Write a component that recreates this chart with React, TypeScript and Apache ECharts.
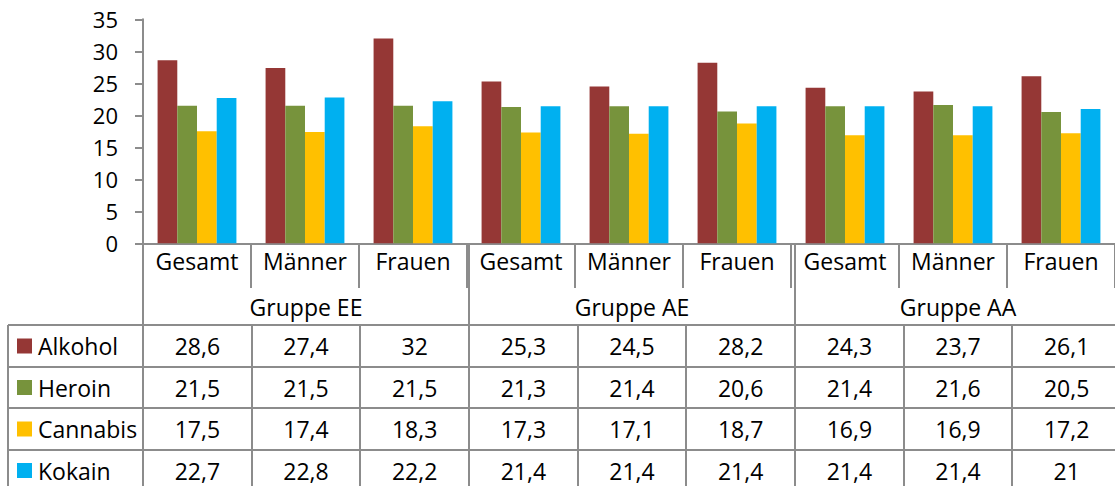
import React, { useEffect, useRef } from "react";
import * as echarts from "echarts";

const categories = ["Gesamt", "Männer", "Frauen", "Gesamt", "Männer", "Frauen", "Gesamt", "Männer", "Frauen"];
const groups = ["Gruppe EE", "Gruppe AE", "Gruppe AA"];
const seriesNames = ["Alkohol", "Heroin", "Cannabis", "Kokain"];
const alkohol = [28.6, 27.4, 32, 25.3, 24.5, 28.2, 24.3, 23.7, 26.1];
const heroin = [21.5, 21.5, 21.5, 21.3, 21.4, 20.6, 21.4, 21.6, 20.5];
const cannabis = [17.5, 17.4, 18.3, 17.3, 17.1, 18.7, 16.9, 16.9, 17.2];
const kokain = [22.7, 22.8, 22.2, 21.4, 21.4, 21.4, 21.4, 21.4, 21];
const colors = ["#953735", "#77933C", "#FFC000", "#00B0F0"];
const yMin = 0;
const yMax = 35;
const yInterval = 5;

const W = 1115;
const H = 486;
const FONT = '"Open Sans", sans-serif';
const LINE = "#8c8c8c";

export default function App() {
  const ref = useRef<HTMLDivElement>(null);
  useEffect(() => {
    if (!ref.current) return;
    const chart = echarts.init(ref.current, null, { renderer: "svg" });
    const values = [alkohol, heroin, cannabis, kokain];
    const plotLeft = 143;
    const plotRight = 1121;
    const plotTop = 19.3;
    const axisY = 243.3;
    const n = categories.length;
    const cellW = (plotRight - plotLeft) / n;
    const perGroup = n / groups.length;
    const catRowBottom = 288;
    const groupRowBottom = 325;
    const rowBounds = [325, 367, 408, 450, 491];

    const graphic: any[] = [];
    const line = (x1: number, y1: number, x2: number, y2: number) =>
      graphic.push({
        type: "line",
        silent: true,
        shape: { x1, y1, x2, y2 },
        style: { stroke: LINE, lineWidth: 2 },
      });
    for (let r = 0; r < 4; r++) line(8, rowBounds[r], W, rowBounds[r]);
    line(8, groupRowBottom, 8, H);
    for (let g = 0; g < groups.length; g++) {
      const x = Math.round(plotLeft + g * perGroup * cellW);
      line(x, axisY, x, H);
    }
    for (let i = 1; i < n; i++) {
      if (i % perGroup === 0) continue;
      const x = Math.round(plotLeft + i * cellW);
      line(x, groupRowBottom, x, H);
    }
    groups.forEach((g, gi) => {
      graphic.push({
        type: "text",
        silent: true,
        x: plotLeft + (gi + 0.5) * perGroup * cellW,
        y: (catRowBottom + groupRowBottom) / 2,
        style: { text: g, fill: "#000", fontSize: 23, fontFamily: FONT, align: "center", verticalAlign: "middle" },
      });
    });
    seriesNames.forEach((name, si) => {
      const cy = (rowBounds[si] + rowBounds[si + 1]) / 2;
      graphic.push({
        type: "rect",
        silent: true,
        shape: { x: 17, y: cy - 7.5, width: 15, height: 15 },
        style: { fill: colors[si] },
      });
      graphic.push({
        type: "text",
        silent: true,
        x: 38,
        y: cy,
        style: { text: name, fill: "#000", fontSize: 23, fontFamily: FONT, align: "left", verticalAlign: "middle" },
      });
      values[si].forEach((v, i) => {
        graphic.push({
          type: "text",
          silent: true,
          x: plotLeft + (i + 0.5) * cellW,
          y: cy,
          style: {
            text: String(v).replace(".", ","),
            fill: "#000",
            fontSize: 23,
            fontFamily: FONT,
            align: "center",
            verticalAlign: "middle",
          },
        });
      });
    });

    chart.setOption({
      animation: false,
      textStyle: { fontFamily: FONT },
      grid: { left: plotLeft, right: W - plotRight, top: plotTop, bottom: H - axisY, containLabel: false },
      xAxis: {
        type: "category",
        data: categories,
        axisLine: { show: true, lineStyle: { color: LINE, width: 2 } },
        axisTick: { show: true, length: catRowBottom - axisY, interval: 0, alignWithLabel: false, lineStyle: { color: LINE, width: 2 } },
        axisLabel: { interval: 0, fontSize: 23, color: "#000", fontFamily: FONT, margin: 6 },
        splitLine: { show: false },
      },
      yAxis: {
        type: "value",
        min: yMin,
        max: yMax,
        interval: yInterval,
        axisLine: { show: true, lineStyle: { color: LINE, width: 2 } },
        axisTick: { show: true, length: 8, inside: false, lineStyle: { color: LINE, width: 2 } },
        axisLabel: { fontSize: 22, color: "#000", fontFamily: FONT, margin: 25 },
        splitLine: { show: false },
      },
      series: seriesNames.map((name, si) => ({
        name,
        type: "bar",
        data: values[si],
        barGap: "0%",
        barCategoryGap: "27%",
        itemStyle: { color: colors[si] },
      })),
      graphic,
    });
    return () => chart.dispose();
  }, []);
  return <div ref={ref} style={{ position: "fixed", left: 0, top: 0, width: W, height: H, background: "#fff" }} />;
}
